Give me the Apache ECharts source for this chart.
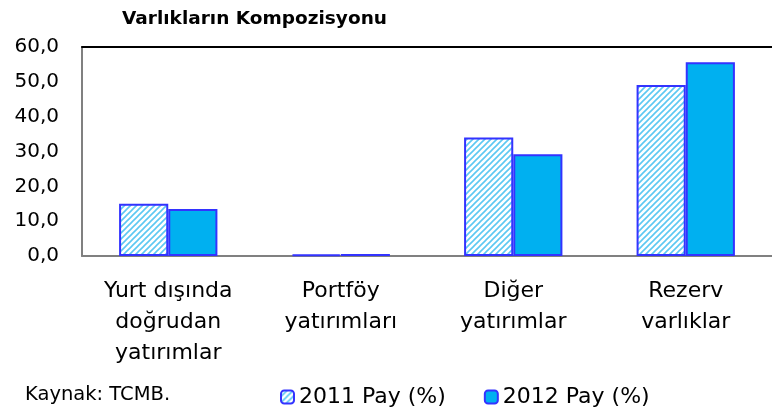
<!DOCTYPE html>
<html><head><meta charset="utf-8">
<script src="https://cdn.jsdelivr.net/npm/echarts@6/dist/echarts.min.js"></script>
<style>html,body{margin:0;padding:0;background:#fff}#c{width:772px;height:412px}</style>
</head><body><div id="c"></div>
<script>
const categories = ['Yurt dışında\ndoğrudan\nyatırımlar', 'Portföy\nyatırımları', 'Diğer\nyatırımlar', 'Rezerv\nvarlıklar'];
const pay2011 = [15.0, 0.5, 34.0, 49.1];
const pay2012 = [13.5, 0.6, 29.2, 55.6];
const yTicks = [0, 10, 20, 30, 40, 50, 60];
const seriesNames = ['2011 Pay (%)', '2012 Pay (%)'];

const WIDE = '"DejaVu Sans", sans-serif';
const pc = document.createElement('canvas');
pc.width = 6; pc.height = 6;
const g = pc.getContext('2d');
g.fillStyle = '#fff'; g.fillRect(0,0,6,6);
g.strokeStyle = '#5cc8f2'; g.lineWidth = 1.6;
g.beginPath();
g.moveTo(-1,7); g.lineTo(7,-1);
g.moveTo(-4,4); g.lineTo(4,-4);
g.moveTo(2,10); g.lineTo(10,2);
g.stroke();

const chart = echarts.init(document.getElementById('c'));
chart.setOption({
  animation: false,
  title: { text: 'Varlıkların Kompozisyonu', left: 117, top: 5,
    textStyle: { fontFamily: WIDE, fontWeight: 'bold', fontSize: 18.5, color: '#000' } },
  grid: { left: 82, right: -6, top: 47, bottom: 156 },
  legend: {
    left: 275, top: 381, itemWidth: 13, itemHeight: 13, itemGap: 38,
    textStyle: { fontFamily: WIDE, fontSize: 22, color: '#000' },
    data: seriesNames
  },
  graphic: [{ type: 'text', left: 25, top: 385,
    style: { text: 'Kaynak: TCMB.', font: '19.5px ' + WIDE, fill: '#000' } }],
  xAxis: [{
    type: 'category', data: categories,
    axisLine: { lineStyle: { color: '#808080', width: 2 } },
    axisTick: { show: false },
    axisLabel: { fontFamily: WIDE, fontSize: 22, color: '#000', lineHeight: 31, margin: 20, interval: 0 }
  }, {
    type: 'category', position: 'top', data: categories,
    axisLine: { lineStyle: { color: '#000', width: 2 } },
    axisTick: { show: false }, axisLabel: { show: false }
  }],
  yAxis: {
    type: 'value', min: yTicks[0], max: yTicks[yTicks.length-1], interval: 10,
    axisLine: { show: true, lineStyle: { color: '#808080', width: 2 } },
    axisTick: { show: false }, splitLine: { show: false },
    axisLabel: { fontFamily: WIDE, fontSize: 20, color: '#000', margin: 23,
      formatter: v => v.toFixed(1).replace('.', ',') }
  },
  series: [{
    name: seriesNames[0], type: 'bar', data: pay2011, barWidth: '28.5%', barGap: '0%',
    itemStyle: { color: { image: pc, repeat: 'repeat' }, borderColor: '#3333ff', borderWidth: 2 }
  }, {
    name: seriesNames[1], type: 'bar', data: pay2012, barWidth: '28.5%',
    itemStyle: { color: '#00b0f0', borderColor: '#3333ff', borderWidth: 2 }
  }]
});
</script></body></html>
